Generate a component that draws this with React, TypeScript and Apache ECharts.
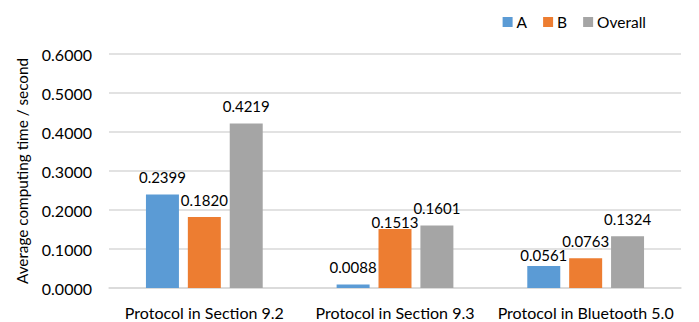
import React, { useEffect, useRef } from "react";
import * as echarts from "echarts";

const categories = ["Protocol in Section 9.2", "Protocol in Section 9.3", "Protocol in Bluetooth 5.0"];
const seriesNames = ["A", "B", "Overall"];
const valuesA = [0.2399, 0.0088, 0.0561];
const valuesB = [0.182, 0.1513, 0.0763];
const valuesOverall = [0.4219, 0.1601, 0.1324];
const colors = ["#5B9BD5", "#ED7D31", "#A5A5A5"];
const FONT = "Lato";

export default function App() {
  const ref = useRef<HTMLDivElement>(null);
  useEffect(() => {
    if (!ref.current) return;
    const chart = echarts.init(ref.current, undefined, { renderer: "svg" });
    const labelBase = {
      show: true,
      position: "top",
      distance: 10,
      fontFamily: FONT,
      fontSize: 15,
      color: "#000",
      formatter: (p: any) => Number(p.value).toFixed(4),
    };
    const mk = (vals: number[], adj: Record<number, number>) =>
      vals.map((v, i) =>
        adj[i] !== undefined ? { value: v, label: { offset: [0, adj[i]] } } : { value: v }
      );
    const allVals = [mk(valuesA, { 2: 6 }), mk(valuesB, { 1: 11 }), mk(valuesOverall, {})];
    chart.setOption({
      animation: false,
      backgroundColor: "#fff",
      textStyle: { fontFamily: FONT },
      legend: {
        top: 9,
        right: 48,
        itemWidth: 10,
        itemHeight: 10,
        itemGap: 16,
        icon: "rect",
        textStyle: { fontFamily: FONT, fontSize: 15.5, color: "#000", padding: [0, 0, 0, -1] },
        data: seriesNames,
      },
      grid: { left: 109, right: 18, top: 54, bottom: 34 },
      xAxis: {
        type: "category",
        data: categories,
        axisLine: { lineStyle: { color: "#D9D9D9", width: 1.5 } },
        axisTick: { show: false },
        axisLabel: { fontFamily: FONT, fontSize: 16, color: "#000", margin: 16, interval: 0 },
      },
      yAxis: {
        type: "value",
        min: 0,
        max: 0.6,
        interval: 0.1,
        name: "Average computing time / second",
        nameLocation: "middle",
        nameGap: 80,
        nameTextStyle: { fontFamily: FONT, fontSize: 15.3, color: "#000" },
        axisLabel: {
          fontFamily: FONT,
          fontSize: 16,
          color: "#000",
          margin: 17,
          formatter: (v: number) => v.toFixed(4),
        },
        splitLine: { lineStyle: { color: "#D9D9D9", width: 1.5 } },
        axisLine: { show: false },
        axisTick: { show: false },
      },
      series: seriesNames.map((n, i) => ({
        name: n,
        type: "bar",
        data: allVals[i],
        barWidth: "17.3%",
        barGap: "27%",
        itemStyle: { color: colors[i] },
        label: labelBase,
      })),
    });
    return () => chart.dispose();
  }, []);
  return (
    <div
      ref={ref}
      style={{ position: "absolute", left: 0, top: 0, width: 699, height: 322 }}
    />
  );
}
